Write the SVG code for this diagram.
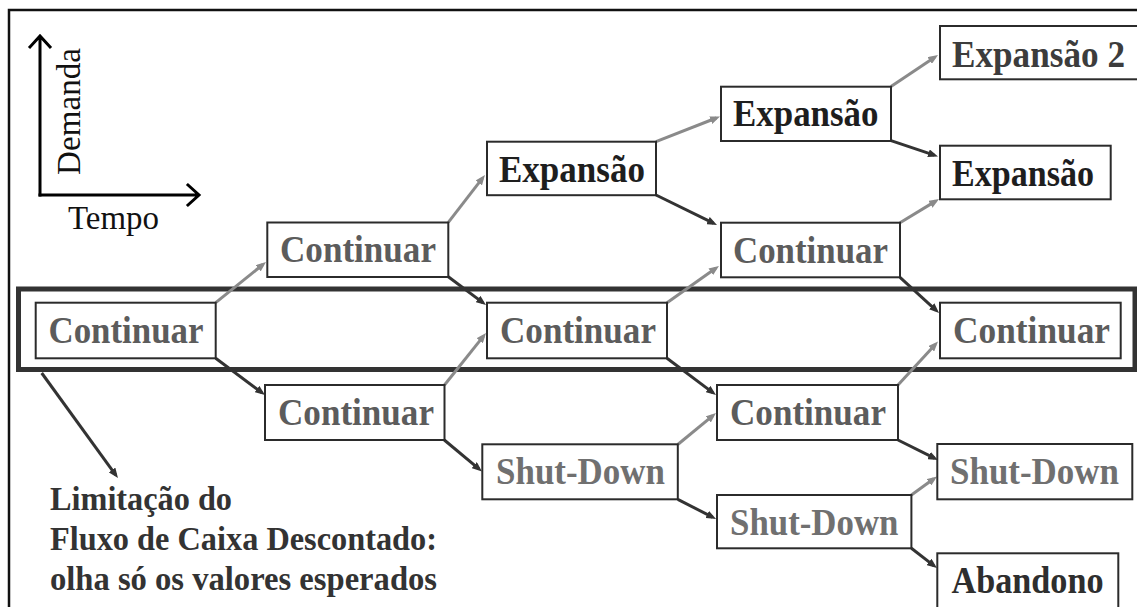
<svg xmlns="http://www.w3.org/2000/svg" width="1137" height="607" viewBox="0 0 1137 607">
  <style>
    .box { fill: #ffffff; stroke: #2b2b2b; stroke-width: 2; }
    .lbl { font-family: "Liberation Serif", "Times New Roman", serif; font-weight: bold; font-size: 37px; }
    .cont { fill: #5c5c5c; }
    .shut { fill: #707070; }
    .exp { fill: #1e1e1e; }
    .exp2 { fill: #3c3c3c; }
    .aban { fill: #2e2e2e; }
    .axis { fill: none; stroke: #000000; stroke-width: 3; stroke-linecap: square; }
    .axis-lbl { font-family: "Liberation Serif", "Times New Roman", serif; font-size: 34px; fill: #111111; }
    .note { font-family: "Liberation Serif", "Times New Roman", serif; font-weight: bold; font-size: 33px; fill: #333333; }
    .up { fill: none; stroke: #8a8a8a; stroke-width: 3; marker-end: url(#head-gray); }
    .down { fill: none; stroke: #333333; stroke-width: 3; marker-end: url(#head-dark); }
  </style>
  <defs>
    <marker id="head-gray" viewBox="0 0 10 8" refX="6" refY="4" markerWidth="10" markerHeight="8" markerUnits="userSpaceOnUse" orient="auto">
      <path d="M0,0 L10,4 L0,8 z" fill="#8a8a8a"/>
    </marker>
    <marker id="head-dark" viewBox="0 0 10 8" refX="6" refY="4" markerWidth="10" markerHeight="8" markerUnits="userSpaceOnUse" orient="auto">
      <path d="M0,0 L10,4 L0,8 z" fill="#333333"/>
    </marker>
  </defs>

  <rect x="0" y="0" width="1137" height="607" fill="#ffffff"/>

  <!-- outer frame (runs off the right and bottom edges) -->
  <rect x="9" y="10" width="1150" height="620" fill="none" stroke="#111111" stroke-width="2.5"/>

  <!-- demand / time axes -->
  <g id="axes">
    <path class="axis" d="M40,195 L40,37 M30,47 L40,36 L50,47"/>
    <path class="axis" d="M40,195 L198,195 M188,185 L199,195 L188,205"/>
    <text class="axis-lbl" transform="translate(80,175) rotate(-90)" textLength="127" lengthAdjust="spacingAndGlyphs">Demanda</text>
    <text class="axis-lbl" x="68" y="229" font-size="33" textLength="91" lengthAdjust="spacingAndGlyphs">Tempo</text>
  </g>

  <!-- highlighted band around the expected-value path -->
  <rect id="band" x="18.5" y="289" width="1116.5" height="80.5" fill="none" stroke="#333333" stroke-width="5"/>

  <!-- connectors -->
  <g id="connectors">
    <path class="up" d="M215.7,302.7 L262.9,264.5"/>
    <path class="up" d="M448.3,222.3 L482.5,178.2"/>
    <path class="up" d="M444.5,385 L483.5,336.1"/>
    <path class="up" d="M656,141.7 L716.3,118"/>
    <path class="up" d="M667,302.7 L715.7,268.3"/>
    <path class="up" d="M677.8,444.5 L712.9,415.6"/>
    <path class="up" d="M891,86.5 L934.7,57.2"/>
    <path class="up" d="M900,222.7 L935.6,201.1"/>
    <path class="up" d="M898,385 L935.3,344.4"/>
    <path class="up" d="M911.4,495 L933.8,478.8"/>

    <path class="down" d="M215.7,358.3 L261.8,392.6"/>
    <path class="down" d="M448.3,276.7 L482.8,302.6"/>
    <path class="down" d="M444.3,440 L478.9,468.9"/>
    <path class="down" d="M656,195 L713.4,223.2"/>
    <path class="down" d="M667,358.3 L712.8,392.6"/>
    <path class="down" d="M891,140.7 L934.2,155.2"/>
    <path class="down" d="M900,277.3 L936.1,310.3"/>
    <path class="down" d="M898,440 L934.4,458.2"/>
    <path class="down" d="M677.8,499.3 L712.5,517.2"/>
    <path class="down" d="M911.4,548.3 L933.8,565.6"/>

    <path class="down" stroke-width="3.5" d="M41.7,373 L115.6,474.8"/>
  </g>

  <!-- column 0 -->
  <g id="n-root">
    <rect class="box" x="35.7" y="302.7" width="180" height="55.6"/>
    <text class="lbl cont" x="48.5" y="342.7" textLength="155" lengthAdjust="spacingAndGlyphs">Continuar</text>
  </g>

  <!-- column 1 -->
  <g id="n-c1-up">
    <rect class="box" x="267.3" y="222.5" width="181" height="54.5"/>
    <text class="lbl cont" x="280" y="261.7" textLength="156" lengthAdjust="spacingAndGlyphs">Continuar</text>
  </g>
  <g id="n-c1-down">
    <rect class="box" x="265" y="385" width="179.5" height="55"/>
    <text class="lbl cont" x="278" y="424.5" textLength="156" lengthAdjust="spacingAndGlyphs">Continuar</text>
  </g>

  <!-- column 2 -->
  <g id="n-c2-exp">
    <rect class="box" x="487" y="141.7" width="169" height="53.5"/>
    <text class="lbl exp" x="499" y="181.5" textLength="146" lengthAdjust="spacingAndGlyphs">Expansão</text>
  </g>
  <g id="n-c2-cont">
    <rect class="box" x="487" y="302.7" width="180" height="55.6"/>
    <text class="lbl cont" x="500" y="342.7" textLength="156" lengthAdjust="spacingAndGlyphs">Continuar</text>
  </g>
  <g id="n-c2-shut">
    <rect class="box" x="482.3" y="444.3" width="195.5" height="55"/>
    <text class="lbl shut" x="496" y="484" textLength="169" lengthAdjust="spacingAndGlyphs">Shut-Down</text>
  </g>

  <!-- column 3 -->
  <g id="n-c3-exp">
    <rect class="box" x="721" y="86.7" width="170" height="54.3"/>
    <text class="lbl exp" x="733" y="125.7" textLength="145.5" lengthAdjust="spacingAndGlyphs">Expansão</text>
  </g>
  <g id="n-c3-cont-up">
    <rect class="box" x="721" y="222.7" width="179" height="54.6"/>
    <text class="lbl cont" x="733" y="262.5" textLength="155" lengthAdjust="spacingAndGlyphs">Continuar</text>
  </g>
  <g id="n-c3-cont-down">
    <rect class="box" x="717" y="385" width="181" height="55"/>
    <text class="lbl cont" x="730" y="424.5" textLength="156" lengthAdjust="spacingAndGlyphs">Continuar</text>
  </g>
  <g id="n-c3-shut">
    <rect class="box" x="717" y="495" width="194.4" height="53.3"/>
    <text class="lbl shut" x="730" y="535" textLength="168.5" lengthAdjust="spacingAndGlyphs">Shut-Down</text>
  </g>

  <!-- column 4 -->
  <g id="n-c4-exp2">
    <rect class="box" x="940" y="26" width="210" height="53.3"/>
    <text class="lbl exp2" x="952" y="66.5" textLength="173" lengthAdjust="spacingAndGlyphs">Expansão 2</text>
  </g>
  <g id="n-c4-exp">
    <rect class="box" x="940" y="145.7" width="170.7" height="53.6"/>
    <text class="lbl exp" x="952" y="185.5" textLength="142" lengthAdjust="spacingAndGlyphs">Expansão</text>
  </g>
  <g id="n-c4-cont">
    <rect class="box" x="940" y="302.7" width="180.7" height="55.6"/>
    <text class="lbl cont" x="953" y="342.7" textLength="157" lengthAdjust="spacingAndGlyphs">Continuar</text>
  </g>
  <g id="n-c4-shut">
    <rect class="box" x="937.3" y="444" width="195" height="55.3"/>
    <text class="lbl shut" x="950" y="484" textLength="169" lengthAdjust="spacingAndGlyphs">Shut-Down</text>
  </g>
  <g id="n-c4-aban">
    <rect class="box" x="937.3" y="553.3" width="181" height="70"/>
    <text class="lbl aban" x="951.5" y="593" textLength="152" lengthAdjust="spacingAndGlyphs">Abandono</text>
  </g>

  <!-- note below the band -->
  <g id="note">
    <text class="note" x="50" y="510" textLength="182" lengthAdjust="spacingAndGlyphs">Limitação do</text>
    <text class="note" x="50" y="550" textLength="387" lengthAdjust="spacingAndGlyphs">Fluxo de Caixa Descontado:</text>
    <text class="note" x="50" y="590" textLength="387" lengthAdjust="spacingAndGlyphs">olha só os valores esperados</text>
  </g>
</svg>
